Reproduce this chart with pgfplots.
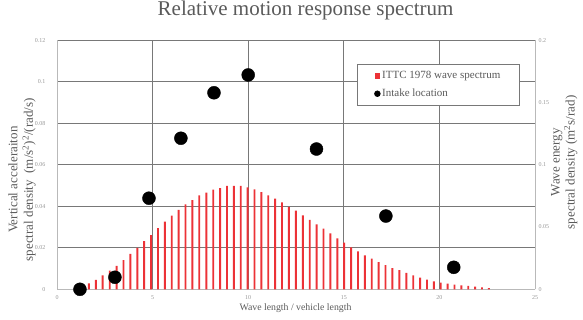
\documentclass[border=0pt]{standalone}
\usepackage{fontspec}
\setmainfont{Liberation Serif}
\usepackage{pgfplots}
\pgfplotsset{compat=1.18}

\definecolor{gridgray}{RGB}{120,120,120}
\definecolor{framegray}{RGB}{185,185,185}
\definecolor{ticktext}{RGB}{150,150,150}
\definecolor{labeltext}{RGB}{90,90,90}
\definecolor{barred}{RGB}{236,50,55}

\pgfplotsset{
  common/.style={
    at={(57pt,30.7pt)}, anchor=south west,
    scale only axis, width=478pt, height=249pt,
    xmin=0, xmax=25, clip=false,
    tick style={draw=none},
    ticklabel style={font=\fontsize{6}{7}\selectfont, text=ticktext},
  }
}

\begin{document}
\begin{tikzpicture}
\path[use as bounding box] (0,0) rectangle (583pt,320pt);

% left axis: grid, frame, ticks and labels
\begin{axis}[common,
  ymin=0, ymax=0.12,
  axis x line*=bottom, axis y line*=left,
  axis line style={framegray, line width=0.8pt},
  xtick={0,5,10,15,20,25},
  xticklabels={0,5,10,15,20,25},
  ytick={0,0.02,0.04,0.06,0.08,0.1,0.12},
  yticklabels={0,0.02,0.04,0.06,0.08,0.1,0.12},
  xticklabel style={yshift=-3pt},
  yticklabel style={xshift=-8pt},
  grid=major,
  major grid style={gridgray, line width=0.9pt},
  title={Relative motion response spectrum},
  title style={at={(axis description cs:0.52,1.094)}, anchor=center,
    font=\fontsize{21}{24}\selectfont, text=labeltext},
  xlabel={Wave length / vehicle length},
  xlabel style={at={(axis description cs:0.499,-0.075)}, anchor=center,
    font=\fontsize{9.8}{11}\selectfont, text=labeltext},
  ylabel={Vertical acceleraiton\\spectral density\ \ (m/s\textsuperscript{2})\textsuperscript{2}/(rad/s)},
  ylabel style={at={(axis description cs:-0.073,0.44)}, anchor=center,
    align=center, font=\fontsize{13}{15.5}\selectfont, text=labeltext},
]
\addplot[draw=none, forget plot] coordinates {(0,0)};
\end{axis}

% right axis: ITTC 1978 wave spectrum
\begin{axis}[common,
  ymin=0, ymax=0.2,
  axis x line=none, axis y line*=right,
  axis line style={framegray, line width=0.8pt},
  ytick={0,0.05,0.1,0.15,0.2},
  yticklabels={0,0.05,0.1,0.15,0.2},
  ylabel={Wave energy\\spectral density (m\textsuperscript{2}s/rad)},
  ylabel style={at={(axis description cs:1.061,0.51)}, anchor=center,
    align=center, font=\fontsize{13}{15}\selectfont, text=labeltext},
  legend style={at={(0.628,0.905)}, anchor=north west,
    draw=gridgray, line width=0.8pt, fill=white,
    font=\fontsize{11}{13}\selectfont, text=labeltext,
    inner xsep=17pt, inner ysep=5pt, row sep=5pt},
  legend cell align=left,
]
\addplot[ybar, bar width=1.9pt, fill=barred, draw=none, forget plot] table {
x y
1.67 0.0048
2.03 0.0075
2.39 0.0112
2.76 0.0149
3.12 0.0189
3.48 0.0235
3.84 0.0284
4.20 0.0332
4.56 0.0386
4.92 0.0436
5.28 0.0492
5.64 0.0544
6.00 0.0592
6.36 0.0637
6.72 0.0683
7.08 0.0717
7.44 0.0755
7.81 0.0777
8.17 0.0800
8.53 0.0813
8.89 0.0830
9.25 0.0830
9.61 0.0830
9.97 0.0819
10.33 0.0803
10.69 0.0781
11.05 0.0755
11.41 0.0728
11.77 0.0699
12.13 0.0663
12.49 0.0631
12.86 0.0594
13.22 0.0557
13.58 0.0522
13.94 0.0487
14.30 0.0450
14.66 0.0410
15.02 0.0374
15.38 0.0337
15.74 0.0305
16.10 0.0273
16.46 0.0246
16.82 0.0219
17.18 0.0195
17.54 0.0171
17.91 0.0153
18.27 0.0131
18.63 0.0112
18.99 0.0093
19.35 0.0077
19.71 0.0064
20.07 0.0053
20.43 0.0045
20.79 0.0037
21.15 0.0032
21.51 0.0027
21.87 0.0021
22.23 0.0016
22.59 0.0010
};
\addlegendimage{only marks, mark=square*, mark size=2.3pt, color=barred}
\addlegendentry{ITTC 1978 wave spectrum}
\addlegendimage{only marks, mark=*, mark size=2.8pt, color=black}
\addlegendentry{Intake location}
\end{axis}

% left axis scale: intake location response
\begin{axis}[common,
  ymin=0, ymax=0.12,
  hide axis,
]
\addplot[only marks, mark=*, mark size=6.5pt, color=black] coordinates {
(1.20,0.0000)
(3.03,0.0058)
(4.81,0.0439)
(6.48,0.0728)
(8.21,0.0947)
(10.00,0.1033)
(13.57,0.0676)
(17.20,0.0353)
(20.75,0.0106)
};
\end{axis}
\end{tikzpicture}
\end{document}
